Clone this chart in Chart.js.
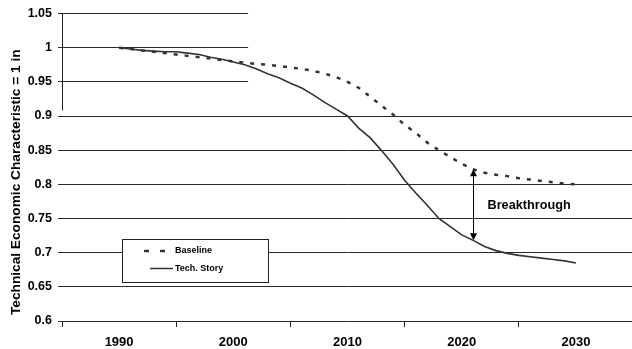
<!DOCTYPE html>
<html>
<head>
<meta charset="utf-8">
<script src="https://cdn.jsdelivr.net/npm/chart.js@4/dist/chart.umd.min.js"></script>
<style>
  html, body { margin: 0; padding: 0; background: #fff; overflow: hidden; }
  #wrap { width: 641px; height: 349px; }
</style>
</head>
<body>
<div id="wrap"><canvas id="c" width="641" height="349"></canvas></div>
<script>
// Yearly index of the technical-economic characteristic (1990 = 1)
const years = [1990, 1991, 1992, 1993, 1994, 1995, 1996, 1997, 1998, 1999,
               2000, 2001, 2002, 2003, 2004, 2005, 2006, 2007, 2008, 2009,
               2010, 2011, 2012, 2013, 2014, 2015, 2016, 2017, 2018, 2019,
               2020, 2021, 2022, 2023, 2024, 2025, 2026, 2027, 2028, 2029, 2030];

const baseline = [1.000, 0.998, 0.996, 0.994, 0.992, 0.990, 0.988, 0.986, 0.984, 0.982,
                  0.980, 0.978, 0.976, 0.975, 0.973, 0.971, 0.969, 0.966, 0.962, 0.957,
                  0.950, 0.941, 0.928, 0.915, 0.902, 0.887, 0.875, 0.861, 0.850, 0.840,
                  0.830, 0.822, 0.817, 0.814, 0.812, 0.809, 0.807, 0.805, 0.803, 0.801, 0.800];

const techStory = [1.000, 0.998, 0.996, 0.995, 0.994, 0.994, 0.992, 0.990, 0.986, 0.983,
                   0.979, 0.975, 0.969, 0.962, 0.956, 0.948, 0.941, 0.931, 0.920, 0.910,
                   0.900, 0.882, 0.868, 0.849, 0.829, 0.806, 0.787, 0.769, 0.750, 0.738,
                   0.726, 0.718, 0.709, 0.703, 0.699, 0.696, 0.694, 0.692, 0.690, 0.688, 0.685];

const seriesNames = ['Baseline', 'Tech. Story'];
const xLabelYears = [1990, 2000, 2010, 2020, 2030];
const yAxisTitle = 'Technical Economic Characteristic = 1 in';
const annotationText = 'Breakthrough';
const breakthroughYear = 2021;

const FONT = "'Liberation Sans', Arial, Helvetica, sans-serif";
const INK = '#333333';

Chart.defaults.font.family = FONT;
Chart.defaults.color = '#000';

const toPoints = vals => years.map((yr, i) => ({ x: yr, y: vals[i] }));

// White panel over the upper right, behind the curves
const panelPlugin = {
  id: 'panel',
  beforeDatasetsDraw(chart) {
    const { ctx, chartArea, scales } = chart;
    const left = scales.x.getPixelForValue(2001.3);
    const bottom = scales.y.getPixelForValue(0.91);
    ctx.save();
    ctx.fillStyle = '#fff';
    ctx.fillRect(left, 0, chartArea.right - left + 2, bottom);
    ctx.restore();
  }
};

// Axis stub, legend box, breakthrough arrow and axis title
const overlayPlugin = {
  id: 'overlay',
  afterDatasetsDraw(chart) {
    const { ctx, scales } = chart;
    const xs = scales.x, ys = scales.y;
    ctx.save();

    // short vertical axis segment at the left
    const ax = Math.round(xs.left) + 0.5;
    ctx.strokeStyle = '#222';
    ctx.lineWidth = 1;
    ctx.beginPath();
    ctx.moveTo(ax, ys.getPixelForValue(1.05));
    ctx.lineTo(ax, ys.getPixelForValue(0.908));
    ctx.stroke();

    // legend
    const lx = 122.5, ly = 239.5, lw = 146, lh = 43;
    ctx.fillStyle = '#fff';
    ctx.fillRect(lx, ly, lw, lh);
    ctx.strokeStyle = '#222';
    ctx.lineWidth = 1;
    ctx.strokeRect(lx, ly, lw, lh);

    ctx.strokeStyle = INK;
    ctx.lineWidth = 2.5;
    ctx.setLineDash([5, 11]);
    ctx.beginPath();
    ctx.moveTo(144, 251);
    ctx.lineTo(171, 251);
    ctx.stroke();
    ctx.setLineDash([]);
    ctx.lineWidth = 1.5;
    ctx.beginPath();
    ctx.moveTo(150, 268.5);
    ctx.lineTo(173, 268.5);
    ctx.stroke();

    ctx.fillStyle = '#000';
    ctx.font = 'bold 9px ' + FONT;
    ctx.textAlign = 'left';
    ctx.textBaseline = 'middle';
    ctx.fillText(seriesNames[0], 175, 251);
    ctx.fillText(seriesNames[1], 175, 268.5);

    // double-headed arrow between the two series
    const idx = years.indexOf(breakthroughYear);
    const bx = Math.round(xs.getPixelForValue(breakthroughYear)) + 0.5;
    const y1 = ys.getPixelForValue(baseline[idx]);
    const y2 = ys.getPixelForValue(techStory[idx]);
    const head = 7, half = 3.5;
    ctx.strokeStyle = '#000';
    ctx.fillStyle = '#000';
    ctx.lineWidth = 1;
    ctx.beginPath();
    ctx.moveTo(bx, y1 + head);
    ctx.lineTo(bx, y2 - head);
    ctx.stroke();
    ctx.beginPath();
    ctx.moveTo(bx, y1);
    ctx.lineTo(bx - half, y1 + head);
    ctx.lineTo(bx + half, y1 + head);
    ctx.closePath();
    ctx.fill();
    ctx.beginPath();
    ctx.moveTo(bx, y2);
    ctx.lineTo(bx - half, y2 - head);
    ctx.lineTo(bx + half, y2 - head);
    ctx.closePath();
    ctx.fill();

    // annotation label, trimmed at its baseline
    const ty = (y1 + y2) / 2 + 1;
    ctx.save();
    ctx.beginPath();
    ctx.rect(bx, ty - 12, 120, 18);
    ctx.clip();
    ctx.font = 'bold 12.7px ' + FONT;
    ctx.textBaseline = 'middle';
    ctx.fillText(annotationText, bx + 14, ty);
    ctx.restore();

    // rotated y-axis title
    ctx.translate(16, (ys.top + ys.bottom) / 2 + 15);
    ctx.rotate(-Math.PI / 2);
    ctx.font = 'bold 13.7px ' + FONT;
    ctx.textAlign = 'center';
    ctx.textBaseline = 'middle';
    ctx.fillText(yAxisTitle, 0, 0);

    ctx.restore();
  }
};

new Chart(document.getElementById('c'), {
  type: 'line',
  data: {
    datasets: [
      {
        label: seriesNames[0],
        data: toPoints(baseline),
        borderColor: INK,
        borderWidth: 2.5,
        borderDash: [4, 7],
        pointRadius: 0,
        tension: 0,
        fill: false
      },
      {
        label: seriesNames[1],
        data: toPoints(techStory),
        borderColor: INK,
        borderWidth: 1.6,
        pointRadius: 0,
        tension: 0,
        fill: false
      }
    ]
  },
  options: {
    responsive: false,
    animation: false,
    events: [],
    layout: { padding: { top: 12, right: 0, left: 0, bottom: 0 } },
    plugins: {
      legend: { display: false },
      tooltip: { enabled: false }
    },
    scales: {
      x: {
        type: 'linear',
        min: 1985,
        max: 2035,
        afterFit(scale) { scale.height = 28; },
        afterBuildTicks(scale) {
          const t = [];
          for (let v = 1985; v <= 2035; v += 5) t.push({ value: v });
          scale.ticks = t;
        },
        ticks: {
          autoSkip: false,
          maxRotation: 0,
          padding: 8,
          color: '#000',
          font: { size: 13, weight: 'bold' },
          callback: v => (xLabelYears.includes(v) ? String(v) : '')
        },
        grid: {
          drawOnChartArea: false,
          drawTicks: true,
          tickLength: 6,
          tickColor: ctx => (ctx.tick && xLabelYears.includes(ctx.tick.value) ? 'rgba(0,0,0,0)' : '#222')
        },
        border: { display: false }
      },
      y: {
        type: 'linear',
        min: 0.6,
        max: 1.05,
        afterFit(scale) { scale.width = 62; },
        afterBuildTicks(scale) {
          const t = [];
          for (let k = 0; k <= 9; k++) t.push({ value: Number((0.6 + k * 0.05).toFixed(2)) });
          scale.ticks = t;
        },
        ticks: {
          padding: 6,
          color: '#000',
          font: { size: 12.5, weight: 'bold' },
          callback: v => String(Number(Number(v).toFixed(2)))
        },
        grid: {
          color: '#2a2a2a',
          lineWidth: 1,
          drawTicks: true,
          tickLength: 4,
          tickColor: '#2a2a2a'
        },
        border: { display: false }
      }
    }
  },
  plugins: [panelPlugin, overlayPlugin]
});
</script>
</body>
</html>
